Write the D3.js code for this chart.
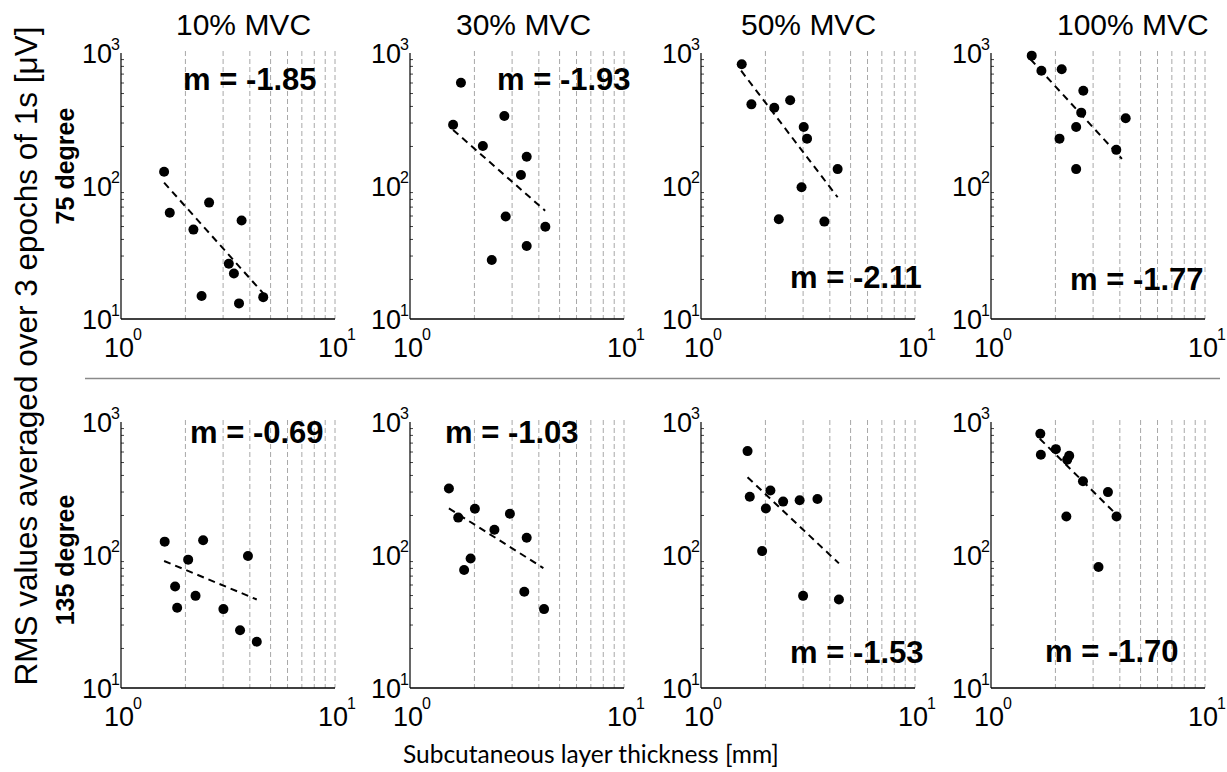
<!DOCTYPE html>
<html>
<head>
<meta charset="utf-8">
<script src="https://cdn.jsdelivr.net/npm/d3@7"></script>
<style>
  body { margin: 0; background: #fff; }
  svg { display: block; }
  text { font-family: "Liberation Sans", Arial, sans-serif; fill: #000; }
</style>
</head>
<body>
<div id="chart"></div>
<script>
// contraction levels (columns) and knee angles (rows)
const levels = ["10% MVC", "30% MVC", "50% MVC", "100% MVC"];
const angles = ["75 degree", "135 degree"];

const slopes75 = ["-1.85", "-1.93", "-2.11", "-1.77"];
const slopes135 = ["-0.69", "-1.03", "-1.53", "-1.70"];

// subcutaneous thickness [mm] per subject, 75 degree
const thick75 = [
  [1.59, 1.69, 2.58, 2.18, 3.66, 3.19, 3.37, 2.38, 3.56, 4.62],
  [1.73, 1.59, 2.76, 2.19, 3.51, 3.30, 2.80, 4.29, 3.51, 2.41],
  [1.55, 1.72, 2.20, 2.61, 3.02, 3.13, 4.35, 2.95, 2.31, 3.77],
  [1.55, 1.72, 2.14, 2.70, 2.64, 4.26, 2.50, 2.09, 3.85, 2.50]
];
// RMS [uV], 75 degree
const rms75 = [
  [128, 63, 75, 47, 55, 26, 22, 14.9, 13.1, 14.6],
  [598, 289, 336, 200, 166, 121, 59, 49.4, 35.4, 27.8],
  [822, 411, 388, 441, 278, 227, 134, 97.8, 56.2, 54],
  [955, 736, 754, 521, 356, 323, 278, 227, 187, 134]
];
// 135 degree
const thick135 = [
  [1.60, 2.42, 2.06, 3.92, 1.79, 2.23, 1.83, 3.01, 3.60, 4.31],
  [1.52, 2.01, 1.68, 2.93, 2.48, 3.51, 1.92, 1.79, 3.42, 4.23],
  [1.65, 1.69, 2.11, 2.01, 2.42, 2.89, 3.50, 1.93, 3.00, 4.41],
  [1.70, 1.71, 2.01, 2.32, 2.27, 2.69, 3.52, 2.25, 3.86, 3.18]
];
const rms135 = [
  [126, 129, 92.3, 98.3, 58, 49.3, 40.1, 39.2, 27.2, 22.3],
  [316, 223, 191, 204, 155, 135, 94.2, 77.1, 52.9, 39.2],
  [604, 274, 305, 224, 252, 258, 264, 107, 49.3, 46.3],
  [816, 567, 625, 557, 520, 359, 297, 195, 195, 81.3]
];

// regression line end points (x0, x1) and (y0, y1)
const fitX75 = [[1.59, 4.62], [1.59, 4.28], [1.54, 4.35], [1.53, 4.09]];
const fitY75 = [[106, 15.6], [264, 65.2], [736, 82.3], [897, 160]];
const fitX135 = [[1.59, 4.31], [1.52, 4.20], [1.65, 4.41], [1.69, 3.90]];
const fitY135 = [[90.2, 46.3], [224, 79.8], [384, 86.5], [749, 198]];

const xMajor = [1, 10];
const yMajor = [10, 100, 1000];

// layout
const W = 1227, H = 772;
const panelLeft = [121, 410, 701, 991];
const rowTop = [53, 422];
const pw = 214, ph = 266;
const titleX = [176, 456, 741, 1057];
// slope label offsets inside each panel [dx, dy]
const slopePos = [
  [[62, 37], [87, 37], [89, 235], [79, 237]],
  [[69, 21], [35, 21], [89, 241], [54, 240]]
];

const svg = d3.select("#chart").append("svg")
  .attr("width", W)
  .attr("height", H);

const x = d3.scaleLog().domain([1, 10]).range([0, pw]);
const y = d3.scaleLog().domain([10, 1000]).range([ph, 0]);

const minorX = d3.range(2, 11);
const minorY = d3.range(20, 100, 10).concat(d3.range(200, 1000, 100));

function drawPanel(row, col, xs, ys, fx, fy, slope) {
  const g = svg.append("g")
    .attr("transform", `translate(${panelLeft[col]},${rowTop[row]})`);

  // dashed minor grid
  g.append("g")
    .selectAll("line")
    .data(minorX)
    .enter()
    .append("line")
    .attr("x1", (d) => x(d))
    .attr("x2", (d) => x(d))
    .attr("y1", -2)
    .attr("y2", ph)
    .attr("stroke", "#a8a8a8")
    .attr("stroke-width", 1)
    .attr("stroke-dasharray", "5,3");

  // y axis with inward minor ticks
  g.append("g")
    .call(d3.axisRight(y).tickValues(minorY).tickSize(3).tickFormat(""))
    .call((a) => a.select(".domain").remove())
    .selectAll("line").attr("stroke", "#444");
  g.append("line")
    .attr("x1", 0).attr("x2", 0)
    .attr("y1", 0).attr("y2", ph)
    .attr("stroke", "#000").attr("stroke-width", 1.2);

  // x axis line
  g.append("line")
    .attr("x1", 0).attr("x2", pw)
    .attr("y1", ph).attr("y2", ph)
    .attr("stroke", "#000").attr("stroke-width", 1.5);

  // y tick labels 10^n
  yMajor.forEach((v) => {
    const e = Math.round(Math.log10(v));
    g.append("text")
      .attr("x", -9)
      .attr("y", y(v) + 10)
      .attr("text-anchor", "end")
      .style("font-size", "27px")
      .text("10");
    g.append("text")
      .attr("x", -10)
      .attr("y", y(v) - 3)
      .style("font-size", "16px")
      .text(e);
  });

  // x tick labels
  xMajor.forEach((v) => {
    const e = Math.round(Math.log10(v));
    g.append("text")
      .attr("x", x(v) - 2)
      .attr("y", ph + 38)
      .attr("text-anchor", "middle")
      .style("font-size", "27px")
      .text("10");
    g.append("text")
      .attr("x", x(v) + 12)
      .attr("y", ph + 21)
      .style("font-size", "16px")
      .text(e);
  });

  // regression line
  g.append("path")
    .datum(fx.map((d, i) => [d, fy[i]]))
    .attr("d", d3.line().x((d) => x(d[0])).y((d) => y(d[1])))
    .attr("fill", "none")
    .attr("stroke", "#000")
    .attr("stroke-width", 2)
    .attr("stroke-dasharray", "7,5");

  // points
  g.append("g")
    .selectAll("circle")
    .data(xs.map((d, i) => [d, ys[i]]))
    .enter()
    .append("circle")
    .attr("cx", (d) => x(d[0]))
    .attr("cy", (d) => y(d[1]))
    .attr("r", 5)
    .attr("fill", "#000");

  const sp = slopePos[row][col];
  g.append("text")
    .attr("x", sp[0])
    .attr("y", sp[1])
    .style("font-size", "31px")
    .style("font-weight", "bold")
    .text("m = " + slope);
}

levels.forEach((lv, i) => {
  svg.append("text")
    .attr("x", titleX[i])
    .attr("y", 35)
    .style("font-size", "30px")
    .text(lv);
  drawPanel(0, i, thick75[i], rms75[i], fitX75[i], fitY75[i], slopes75[i]);
  drawPanel(1, i, thick135[i], rms135[i], fitX135[i], fitY135[i], slopes135[i]);
});

// separator between the two angles
svg.append("line")
  .attr("x1", 85).attr("x2", 1220)
  .attr("y1", 378.5).attr("y2", 378.5)
  .attr("stroke", "#8a8a8a")
  .attr("stroke-width", 1.5);

// row labels
angles.forEach((a, i) => {
  const cy = i === 0 ? 166 : 560;
  svg.append("text")
    .attr("transform", `translate(74,${cy}) rotate(-90)`)
    .attr("text-anchor", "middle")
    .style("font-size", "25px")
    .style("font-weight", "bold")
    .text(a);
});

svg.append("text")
  .attr("transform", "translate(37,356) rotate(-90)")
  .attr("text-anchor", "middle")
  .style("font-size", "31.5px")
  .text("RMS values averaged over 3 epochs of 1s [\u03BCV]");

svg.append("text")
  .attr("x", 403)
  .attr("y", 763)
  .style("font-family", "Lato, 'Open Sans', sans-serif")
  .style("font-size", "24.5px")
  .text("Subcutaneous layer thickness [mm]");
</script>
</body>
</html>
